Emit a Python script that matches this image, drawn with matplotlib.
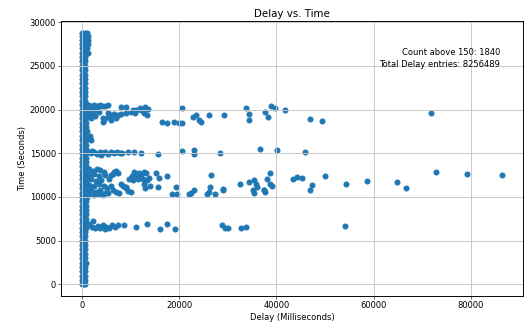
import matplotlib
matplotlib.use('Agg')
import matplotlib.pyplot as plt

# dense column of small delays (time in seconds, right edge of column in ms)
col_time = [100, 500, 1000, 1500, 2000, 2500, 3000, 3500, 4000, 4500, 5000, 5500,
            6000, 6500, 7000, 7500, 8000, 8500, 9000, 9500, 10000, 10500, 11000,
            11500, 12000, 12500, 13000, 13500, 14000, 14500, 15000, 15500, 16000,
            16500, 17000, 17500, 18000, 18500, 19000, 19500, 20000, 20500, 21000,
            21500, 22000, 22500, 23000, 23500, 24000, 24500, 25000, 25500, 26000,
            26500, 27000, 27500, 28000, 28400, 28700]
col_edge = [650, 700, 600, 700, 650, 750, 650, 700, 600, 700, 650, 700,
            700, 900, 900, 800, 800, 750, 800, 800, 1000, 1000, 1000,
            1000, 1000, 1000, 1000, 900, 900, 800, 900, 800, 800,
            1800, 1700, 1000, 800, 800, 900, 1200, 1200, 1200, 650,
            650, 700, 650, 600, 700, 650, 650, 700, 650, 700,
            1200, 1000, 1200, 1200, 1200, 1100]

# ~20000 s band
b20_delay = [1200, 1800, 2400, 3000, 3600, 4200, 4800, 5300, 1500, 2200, 3000, 1500,
             2200, 1800, 2600, 3400, 4250, 4580, 5270, 5950, 6630, 7320, 8000, 9020,
             10050, 11080, 12100, 12780, 13470, 5300, 4300, 11000, 12000, 13000, 13500,
             8000, 9000, 10500, 7000, 6000, 16550, 17580, 18930, 19960, 20650, 20650,
             22900, 23380, 24060, 24400, 26110, 29190, 33840, 34460, 34320, 37600,
             38220, 38970, 39650, 41840, 46970, 49370, 71800]
b20_time = [20500, 20450, 20500, 20450, 20500, 20400, 20450, 20500, 19800, 19900, 20000, 19400,
            19500, 19000, 19300, 19700, 18580, 18860, 19160, 19360, 19470, 19360, 19470, 19550,
            19730, 19930, 19930, 19550, 19360, 19600, 19000, 19600, 20200, 20300, 20100,
            20300, 20250, 20000, 19000, 18800, 18580, 18470, 18580, 18510, 20200, 18510,
            19160, 19350, 18780, 18580, 19430, 19430, 20120, 19460, 18860, 19730,
            19160, 20380, 20230, 20000, 18970, 18700, 19580]

# ~15000 s band
b15_delay = [1200, 1800, 2400, 3000, 3600, 4200, 4800, 5400, 6000, 6600, 7200, 7800,
             8300, 2000, 4000, 9370, 10600, 12100, 15650, 20650, 23040, 23040, 28300,
             36710, 40130, 45800]
b15_time = [15100, 15000, 15150, 14950, 15100, 15000, 15150, 14950, 15100, 15000, 15150, 15050,
            15000, 15300, 14850, 15140, 15140, 15030, 14880, 15220, 15340, 14880, 15070,
            15450, 15340, 15140]

# ~10000-13000 s band
b12_delay = [1500, 2200, 3000, 3800, 4500, 1500, 2500, 3500, 4700, 1800, 2800, 4000,
             1500, 2500, 3500, 4600, 1800, 2800, 3800, 4800, 1500, 2500, 3500, 4300,
             5200, 5500, 5400, 6000, 6300, 5950, 6630, 7000, 7320, 8000, 8500, 9020,
             6300, 7000, 7590, 9020, 9500, 10050, 9700, 10200, 10700, 11200, 11700,
             12200, 12700, 13200, 13700, 10500, 11500, 12500, 12720, 13470, 12900,
             14000, 15180, 15790, 15650, 17580, 19280, 18600, 19630, 22010, 22500,
             23040, 25780, 26110, 26320, 26460, 27420, 29060, 29060, 32470, 34320,
             35480, 35890, 35210, 35480, 36030, 37530, 37740, 38630, 38080, 38770,
             39110, 37390, 43420, 44300, 45260, 47310, 46830, 50040, 54350, 58720,
             64750, 66590, 72810, 79150, 86410]
b12_time = [13200, 13000, 13200, 13100, 12900, 12500, 12600, 12400, 12500, 12000, 11800, 11900,
            11400, 11200, 11500, 11300, 10800, 10600, 10800, 10500, 10300, 10200, 10300, 10200,
            11000, 12000, 10400, 11200, 12600, 12500, 12900, 13000, 12700, 11500, 11300, 11090,
            10800, 10600, 10400, 10970, 10700, 10550, 12000, 12400, 12800, 12300, 12700,
            12500, 12900, 12700, 12200, 11900, 12000, 12100, 11500, 11900, 11000,
            11200, 12700, 12200, 11130, 12350, 11130, 10290, 10290, 10290, 10500,
            10830, 10370, 10550, 11130, 12550, 10370, 10750, 10940, 11440, 11700,
            11890, 11510, 10750, 10440, 11130, 10750, 10550, 12730, 12090, 11510,
            11210, 10830, 12090, 12270, 12200, 11400, 10830, 12350, 11510, 11780,
            11700, 11010, 12870, 12680, 12470]

# ~6500 s band
b6_delay = [1400, 2000, 2600, 3200, 3800, 4400, 5000, 5600, 6200, 6800, 7400, 2300,
            4700, 8680, 11080, 13470, 16060, 17400, 19100, 28850, 29400, 30000,
            32610, 33780, 54150]
b6_time = [6900, 6600, 6400, 6700, 6500, 6800, 6600, 6500, 6750, 6600, 6800, 7200,
           6350, 6850, 6620, 6880, 6350, 6900, 6350, 6800, 6500, 6430,
           6430, 6620, 6700]

count_above = 1840
total_entries = 8256489

# build the full point set
delay = []
time = []
for t, e in zip(col_time, col_edge):
    for d in (0, e / 2, e):
        delay.append(d)
        time.append(t)
delay += b20_delay + b15_delay + b12_delay + b6_delay
time += b20_time + b15_time + b12_time + b6_time

plt.rcParams['font.size'] = 11.5
plt.rcParams['axes.titlesize'] = 14
plt.rcParams['axes.linewidth'] = 1.3
plt.rcParams['grid.linewidth'] = 1.3
plt.rcParams['grid.color'] = '#c8c8c8'

fig = plt.figure(figsize=(10, 6.1905), dpi=52.5)
ax = fig.add_axes([0.1162, 0.0892, 0.88, 0.8462])
ax.scatter(delay, time, s=52, color='#1f77b4')
ax.set_title('Delay vs. Time')
ax.set_xlabel('Delay (Milliseconds)')
ax.set_ylabel('Time (Seconds)')
ax.grid(True)
ax.text(0.95, 0.887, 'Count above 150: %d' % count_above, transform=ax.transAxes,
        ha='right', va='center')
ax.text(0.95, 0.84, 'Total Delay entries: %d' % total_entries, transform=ax.transAxes,
        ha='right', va='center')

fig.savefig('out.png', dpi=52.5)
